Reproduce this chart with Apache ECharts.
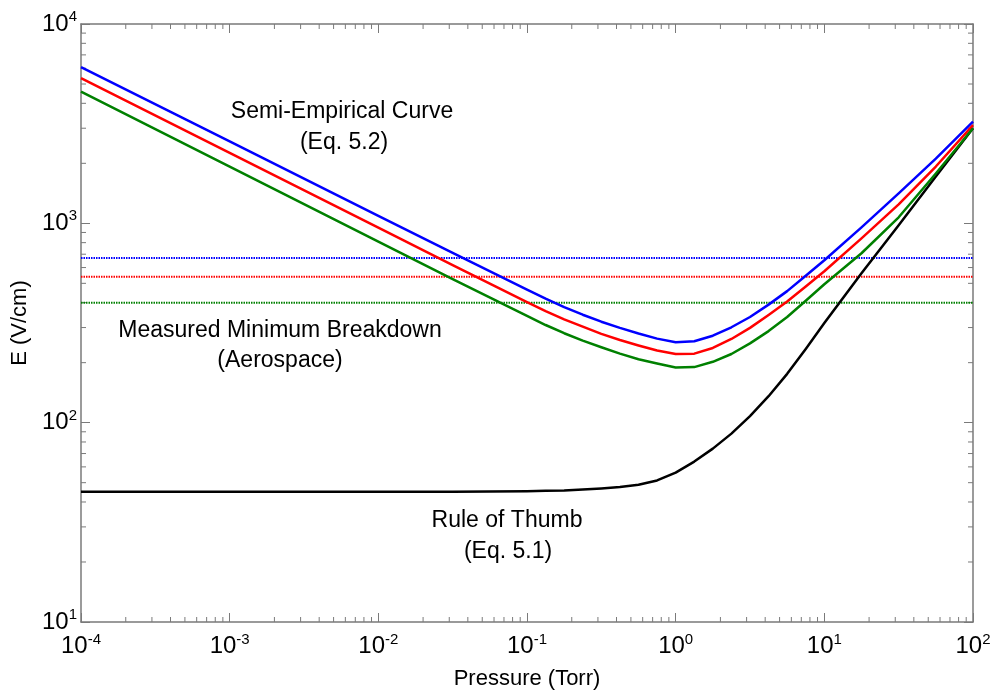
<!DOCTYPE html>
<html>
<head>
<meta charset="utf-8">
<script src="https://cdn.jsdelivr.net/npm/echarts@6/dist/echarts.min.js"></script>
<style>
html,body{margin:0;padding:0;background:#fff;}
#chart{width:992px;height:693px;}
</style>
</head>
<body>
<div id="chart"></div>
<script>
// Pressure (Torr)
const pressure = [1e-4, 1e-3, 1e-2, 0.03162, 0.1, 0.1334, 0.1778, 0.2371, 0.3162, 0.4217, 0.5623, 0.7499, 1, 1.334, 1.778, 2.371, 3.162, 4.217, 5.623, 7.499, 10, 17.78, 31.62, 56.23, 100];
// Semi-Empirical Curve (Eq. 5.2), E (V/cm)
const semiBlue  = [6081, 2576, 1091, 710, 465, 419, 380, 348, 321, 299, 280, 264, 253, 256, 273, 301, 339, 391, 457, 546, 653, 955, 1413, 2113, 3236];
const semiRed   = [5346, 2254, 951, 617, 402, 363, 330, 303, 279, 260, 244, 230, 221, 222, 237, 263, 299, 347, 405, 482, 575, 841, 1245, 1928, 3112];
const semiGreen = [4581, 1923, 809, 525, 343, 309, 281, 258, 239, 222, 208, 198, 189, 190, 202, 221, 250, 288, 339, 409, 495, 708, 1072, 1778, 3000];
// Rule of Thumb (Eq. 5.1)
const ruleOfThumb = [45, 45, 45, 45, 45.3, 45.5, 45.7, 46.2, 46.8, 47.5, 48.8, 51.3, 56.2, 63.8, 74.1, 88.1, 107.9, 135.8, 175.8, 234.4, 316, 562, 977, 1718, 3000];
// Measured Minimum Breakdown (Aerospace): blue, red, green levels
const measuredMin = [670, 540, 400];
const xRange = [1e-4, 100];
const yRange = [10, 1e4];
// minor tick values
const xMinorDecades = [-4, -3, -2, -1, 0, 1];
const yMinorDecades = [1, 2, 3];
const minorMult = [2, 3, 4, 5, 6, 7, 8, 9];

const colors = {blue: '#0000ff', red: '#ff0000', green: '#008000', black: '#000000'};
const axisGrey = '#7a7a7a';
const font = '"Liberation Sans", Arial, Helvetica, sans-serif';

const xMinor = [];
xMinorDecades.forEach(d => minorMult.forEach(m => xMinor.push([m * Math.pow(10, d), 10])));
const yMinor = [];
yMinorDecades.forEach(d => minorMult.forEach(m => yMinor.push([1e-4, m * Math.pow(10, d)])));

function supLabel(v) {
  const e = Math.round(Math.log10(v));
  return '{b|10}{s|' + e + '}';
}
const richLab = {
  b: {fontSize: 24, fontFamily: font, color: '#000'},
  s: {fontSize: 15, fontFamily: font, color: '#000', padding: [0, 0, 14, 0]}
};

function pair(arrX, arrY) { return arrX.map((x, i) => [x, arrY[i]]); }

const chart = echarts.init(document.getElementById('chart'), null, {renderer: 'canvas'});
const grid = {left: 81, right: 19, top: 24, bottom: 71, containLabel: false, outerBoundsMode: 'none'};

function curve(name, data, color) {
  return {
    name, type: 'line', data, showSymbol: false, symbol: 'none', smooth: false,
    lineStyle: {color, width: 2.5, join: 'round'}, xAxisIndex: 0, yAxisIndex: 0, z: 3
  };
}
function level(val, color) {
  return {
    type: 'line', data: [[xRange[0], val], [xRange[1], val]], showSymbol: false, symbol: 'none',
    lineStyle: {color, width: 2, type: [1.5, 1]}, xAxisIndex: 0, yAxisIndex: 0, z: 2
  };
}
function txt(text, x, y) {
  return {type: 'text', z: 10, style: {text, x, y, align: 'center', verticalAlign: 'middle', font: '23px ' + font, fill: '#000'}};
}

const option = {
  animation: false,
  backgroundColor: '#fff',
  grid,
  xAxis: [{
    type: 'log', logBase: 10, min: xRange[0], max: xRange[1], splitNumber: 6,
    name: 'Pressure (Torr)', nameLocation: 'middle', nameGap: 46,
    nameTextStyle: {fontSize: 22, fontFamily: font, color: '#000'},
    axisLine: {lineStyle: {color: axisGrey, width: 1.5}},
    axisTick: {inside: true, length: 9, lineStyle: {color: axisGrey}},
    splitLine: {show: false},
    axisLabel: {formatter: supLabel, rich: richLab, margin: 10}
  }, {
    type: 'log', logBase: 10, min: xRange[0], max: xRange[1], splitNumber: 6, position: 'top',
    axisLine: {lineStyle: {color: axisGrey, width: 1.5}},
    axisTick: {inside: true, length: 9, lineStyle: {color: axisGrey}},
    splitLine: {show: false}, axisLabel: {show: false}
  }],
  yAxis: [{
    type: 'log', logBase: 10, min: yRange[0], max: yRange[1], splitNumber: 3,
    name: 'E (V/cm)', nameLocation: 'middle', nameGap: 40, nameRotate: 90,
    nameTextStyle: {fontSize: 22, fontFamily: font, color: '#000'},
    axisLine: {lineStyle: {color: axisGrey, width: 1.5}},
    axisTick: {inside: true, length: 9, lineStyle: {color: axisGrey}},
    splitLine: {show: false},
    axisLabel: {formatter: supLabel, rich: richLab, margin: 4}
  }, {
    type: 'log', logBase: 10, min: yRange[0], max: yRange[1], splitNumber: 3, position: 'right',
    axisLine: {lineStyle: {color: axisGrey, width: 1.5}},
    axisTick: {inside: true, length: 9, lineStyle: {color: axisGrey}},
    splitLine: {show: false}, axisLabel: {show: false}
  }],
  graphic: [
    txt('Semi-Empirical Curve', 342, 112),
    txt('(Eq. 5.2)', 344, 143),
    txt('Measured Minimum Breakdown', 280, 331),
    txt('(Aerospace)', 280, 361),
    txt('Rule of Thumb', 507, 521),
    txt('(Eq. 5.1)', 508, 552)
  ],
  series: [
    level(measuredMin[0], colors.blue),
    level(measuredMin[1], colors.red),
    level(measuredMin[2], colors.green),
    curve('Rule of Thumb', pair(pressure, ruleOfThumb), colors.black),
    curve('Semi-Empirical blue', pair(pressure, semiBlue), colors.blue),
    curve('Semi-Empirical red', pair(pressure, semiRed), colors.red),
    curve('Semi-Empirical green', pair(pressure, semiGreen), colors.green),
    {
      type: 'custom', xAxisIndex: 0, yAxisIndex: 0, data: xMinor, silent: true, clip: false, z: 1,
      renderItem: function (params, api) {
        const x = api.coord([api.value(0), yRange[0]])[0];
        const yb = api.coord([xRange[0], yRange[0]])[1];
        const yt = api.coord([xRange[0], yRange[1]])[1];
        const st = {stroke: axisGrey, lineWidth: 1};
        return {type: 'group', children: [
          {type: 'line', shape: {x1: x, y1: yb, x2: x, y2: yb - 5}, style: st},
          {type: 'line', shape: {x1: x, y1: yt, x2: x, y2: yt + 5}, style: st}
        ]};
      }
    },
    {
      type: 'custom', xAxisIndex: 0, yAxisIndex: 0, data: yMinor, silent: true, clip: false, z: 1,
      renderItem: function (params, api) {
        const y = api.coord([xRange[0], api.value(1)])[1];
        const xl = api.coord([xRange[0], yRange[0]])[0];
        const xr = api.coord([xRange[1], yRange[0]])[0];
        const st = {stroke: axisGrey, lineWidth: 1};
        return {type: 'group', children: [
          {type: 'line', shape: {x1: xl, y1: y, x2: xl + 5, y2: y}, style: st},
          {type: 'line', shape: {x1: xr, y1: y, x2: xr - 5, y2: y}, style: st}
        ]};
      }
    }
  ]
};
chart.setOption(option);
</script>
</body>
</html>
